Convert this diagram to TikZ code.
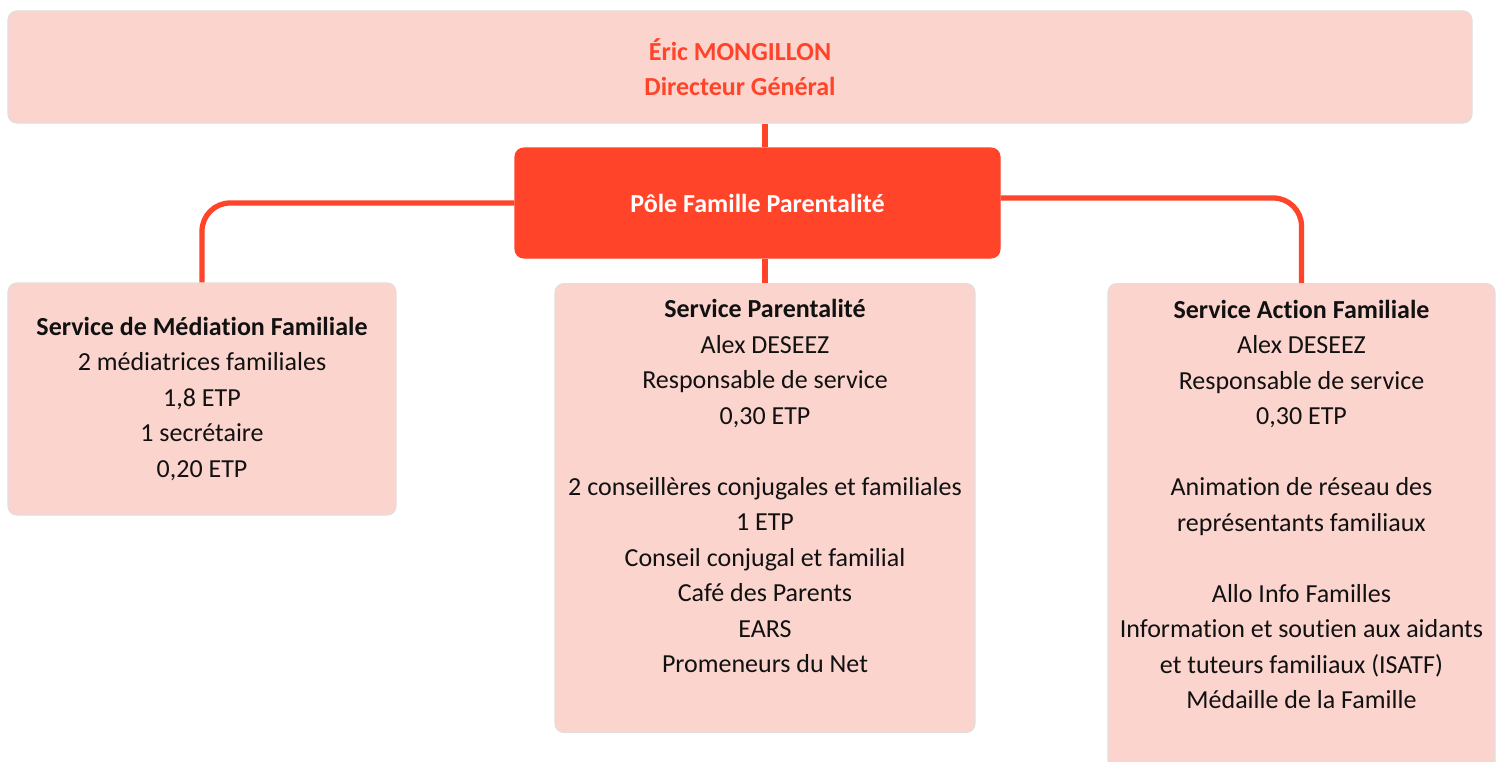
\documentclass[tikz,border=0pt]{standalone}
\usepackage{fontspec}
\setmainfont{Carlito}[Ligatures=CommonOff]
\usetikzlibrary{positioning}
\definecolor{rose}{HTML}{FCD4CE}
\definecolor{vermilion}{HTML}{FF4429}
\definecolor{edge}{HTML}{E2DEDC}
\definecolor{ink}{HTML}{111111}

\begin{document}
\begin{tikzpicture}[
  font=\fontsize{14.8}{20.2}\selectfont,
  card/.style={
    rectangle, rounded corners=5pt,
    draw=edge, line width=0.6pt,
    fill=rose,
    align=center,
    text=ink
  },
  headCard/.style={
    card,
    minimum width=29.28cm,
    minimum height=2.24cm,
    text=vermilion,
    font=\fontsize{14.8}{20.2}\selectfont\bfseries
  },
  poleCard/.style={
    card,
    draw=vermilion,
    fill=vermilion,
    minimum width=9.7cm,
    minimum height=2.2cm,
    text=white,
    font=\fontsize{14.8}{20.2}\selectfont\bfseries
  },
  % tall cards: text sits at the top, height/depth set the box
  tallCard/.style={
    card,
    anchor=north,
    inner ysep=0.26cm
  },
  link/.style={
    draw=vermilion,
    line width=3pt,
    rounded corners=16pt
  }
]

\useasboundingbox (0, 0) rectangle (30.04, -15.24);

% Director
\node[headCard] (dir) at (14.8, -1.34) {%
  Éric MONGILLON\\
  Directeur Général
};

% Pole
\node[poleCard] (pole) at (15.15, -4.06) {Pôle Famille Parentalité};

% Médiation familiale (left)
\node[card, minimum width=7.76cm, minimum height=4.64cm] (smf) at (4.04, -7.98) {%
  \textbf{Service de Médiation Familiale}\\
  2 médiatrices familiales\\
  1,8 ETP\\
  1 secrétaire\\
  0,20 ETP
};

% Parentalité (middle)
\node[tallCard, minimum width=8.4cm, text height=7.52cm, text depth=0.94cm] (spar) at (15.3, -5.66) {%
  \textbf{Service Parentalité}\\
  Alex DESEEZ\\
  Responsable de service\\
  0,30 ETP\\[20.2pt]
  2 conseillères conjugales et familiales\\
  1 ETP\\
  Conseil conjugal et familial\\
  Café des Parents\\
  EARS\\
  Promeneurs du Net
};

% Action familiale (right, runs off the page)
\node[tallCard, minimum width=7.74cm, text height=8.24cm, text depth=1.6cm] (saf) at (26.03, -5.66) {%
  \textbf{Service Action Familiale}\\
  Alex DESEEZ\\
  Responsable de service\\
  0,30 ETP\\[20.2pt]
  Animation de réseau des\\
  représentants familiaux\\[20.2pt]
  Allo Info Familles\\
  Information et soutien aux aidants\\
  et tuteurs familiaux (ISATF)\\
  Médaille de la Famille
};

% Connectors
\draw[link] (dir.south -| spar.north) -- (pole.north -| spar.north);
\draw[link] (pole.south -| spar.north) -- (spar.north);
\draw[link] (pole.west) -| (smf.north);
\draw[link] ([yshift=0.1cm]pole.east) -| (saf.north);

\end{tikzpicture}
\end{document}
